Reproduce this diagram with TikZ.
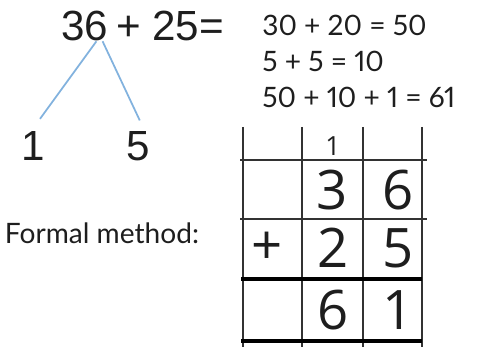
\documentclass[tikz,border=0pt]{standalone}
\usepackage{fontspec}
\setmainfont{Lato}
\newfontfamily\sketchfont{Liberation Sans}
\newfontfamily\gridfont{Open Sans}
\newfontfamily\eqfont[Numbers=Proportional]{Lato}
\usepackage{tikz}
\usetikzlibrary{positioning}
\definecolor{myink}{RGB}{30,30,30}
\definecolor{myblue}{RGB}{130,178,222}
\definecolor{mygrid}{RGB}{50,50,50}
\tikzset{
  sumtext/.style={inner sep=0pt, text=myink,
    font=\sketchfont\fontsize{24}{28}\selectfont},
  eqtext/.style={inner sep=0pt, anchor=west, text=myink,
    font=\eqfont\fontsize{16}{19}\selectfont},
  digit/.style={inner sep=0pt, text=myink,
    font=\gridfont\fontsize{31}{36}\selectfont},
  carrydigit/.style={inner sep=0pt, text=myink,
    font=\gridfont\fontsize{15}{18}\selectfont},
  branch/.style={myblue, line width=1pt},
  gridline/.style={mygrid, line width=1pt},
  boldline/.style={black, line width=2.4pt}
}

\begin{document}
\begin{tikzpicture}[x=0.02cm, y=-0.02cm]
  \useasboundingbox (0,0) rectangle (477,347);
  % partitioning
  \node[sumtext] (n36) at (85,26) {36};
  \node[sumtext, right=4pt of n36] (n25) {+ 25=};
  \node[sumtext] (one) at (33,146) {1};
  \node[sumtext] (five) at (138,146) {5};
  \draw[branch] ([xshift=6.5pt]n36.south) -- ([xshift=4pt,yshift=7pt]one.north);
  \draw[branch] ([xshift=10pt]n36.south) -- ([xshift=1pt,yshift=6pt]five.north);
  % working
  \node[eqtext] (eqa) at (262,25) {30 + 20 = 50};
  \node[eqtext] (eqb) at (262,61) {5 + 5 = 10};
  \node[eqtext] (eqc) at (262,97) {50 + 10 + 1 = 61};
  \node[eqtext, anchor=center] (formal) at (102,233) {Formal method:};
  % column grid
  \foreach \x in {243,302,363,422}
    \draw[gridline] (\x,127) -- (\x,347);
  \foreach \y in {160,219}
    \draw[gridline] (240,\y) -- (427,\y);
  \foreach \y in {279,341}
    \draw[boldline] (241,\y) -- (422,\y);
  \node[carrydigit] (carry) at (333,146) {1};
  \node[digit] (a3) at (332,190) {3};
  \node[digit] (a6) at (398,190) {6};
  \node[digit] (plus) at (267,248) {+};
  \node[digit] (b2) at (333,248) {2};
  \node[digit] (b5) at (398,248) {5};
  \node[digit] (s6) at (333,310) {6};
  \node[digit] (s1) at (398,310) {1};
\end{tikzpicture}
\end{document}
